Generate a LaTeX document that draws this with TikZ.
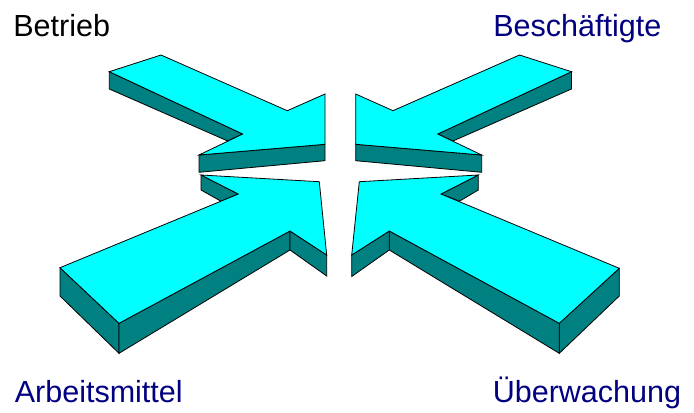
\documentclass[tikz,border=0pt]{standalone}
\usepackage{fontspec}
\setmainfont{Liberation Sans}
\definecolor{arrowtop}{HTML}{00FFFF}
\definecolor{arrowside}{HTML}{008080}
\definecolor{labelblue}{HTML}{000080}
\tikzset{
  topface/.style={fill=arrowtop, draw=black, line width=0.6pt},
  sideface/.style={fill=arrowside, draw=black, line width=0.6pt},
  lbl/.style={anchor=base west, inner sep=0pt, font=\fontsize{22.9pt}{26pt}\selectfont}
}
\begin{document}
\begin{tikzpicture}[x={(0.75pt,0)}, y={(0,-0.75pt)}]
\useasboundingbox (0,0) rectangle (694,412);
% ---- top-left arrow
\filldraw[sideface] (109.3,71.7) -- (109.3,89) -- (227.7,141) -- (242.7,134) -- cycle;
\filldraw[sideface] (199,155) -- (199,172.3) -- (325,160.7) -- (325,144.3) -- cycle;
\filldraw[topface] (109.3,71.7) -- (161,55) -- (287.3,110.7) -- (325,94) -- (325,144.3) -- (199,155) -- (242.7,134) -- cycle;
% ---- top-right arrow
\filldraw[sideface] (571.5,71.7) -- (571.5,89) -- (453,141) -- (437.8,134) -- cycle;
\filldraw[sideface] (481.7,155) -- (481.7,172.3) -- (355.7,160.7) -- (355.7,144.3) -- cycle;
\filldraw[topface] (571.5,71.7) -- (519.5,55) -- (393,110.7) -- (355.7,94) -- (355.7,144.3) -- (481.7,155) -- (437.8,134) -- cycle;
% ---- bottom-left arrow
\filldraw[sideface] (201,175) -- (201,190) -- (221,201.2) -- (238.3,194) -- cycle;
\filldraw[sideface] (60,267.7) -- (60,296) -- (119,353.3) -- (119,323.3) -- cycle;
\filldraw[sideface] (119,323.3) -- (119,353.3) -- (290,250) -- (290,231) -- cycle;
\filldraw[sideface] (290,231) -- (290,250) -- (326.7,276) -- (326.7,255) -- cycle;
\filldraw[topface] (60,267.7) -- (119,323.3) -- (290,231) -- (326.7,255) -- (319.3,181.7) -- (201,175) -- (238.3,194) -- cycle;
% ---- bottom-right arrow
\filldraw[sideface] (478.3,175) -- (478.3,190) -- (459.5,201.2) -- (441,194) -- cycle;
\filldraw[sideface] (619.3,268.3) -- (619.3,296) -- (559.3,353.3) -- (559.3,323.3) -- cycle;
\filldraw[sideface] (559.3,323.3) -- (559.3,353.3) -- (389.3,250) -- (389.3,231) -- cycle;
\filldraw[sideface] (389.3,231) -- (389.3,250) -- (351.7,276.5) -- (351.7,255) -- cycle;
\filldraw[topface] (619.3,268.3) -- (559.3,323.3) -- (389.3,231) -- (351.7,255) -- (359.3,181.7) -- (478.3,175) -- (441,194) -- cycle;
% ---- labels
\node[lbl, text=black] (betrieb) at (13,36) {Betrieb};
\node[lbl, text=labelblue] (besch) at (493,36) {Beschäftigte};
\node[lbl, text=labelblue] (arbeit) at (14.5,402.3) {Arbeitsmittel};
\node[lbl, text=labelblue] (ueber) at (492.5,402.3) {Überwachung};
\end{tikzpicture}
\end{document}
